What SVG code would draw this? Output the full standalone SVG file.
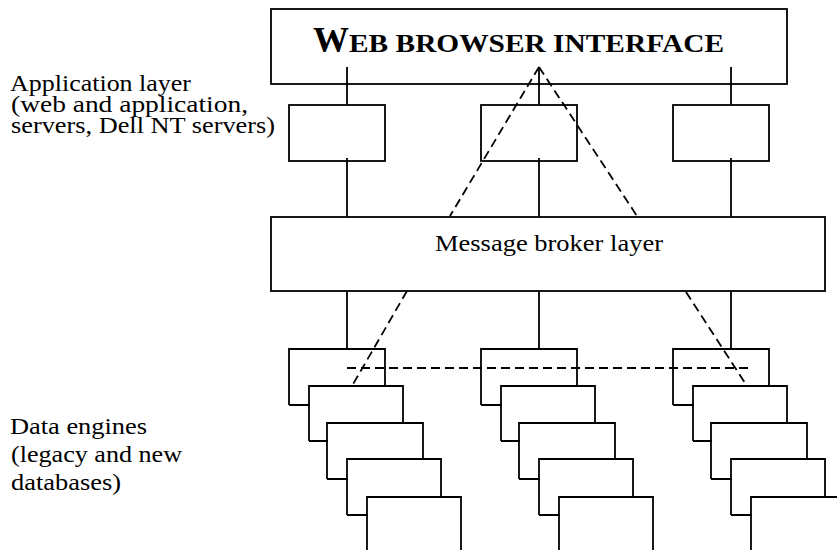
<svg xmlns="http://www.w3.org/2000/svg" xmlns:xlink="http://www.w3.org/1999/xlink" width="837" height="550" viewBox="0 0 837 550">
<style>
.box{fill:none;stroke:#000;stroke-width:1.8}
.ln{fill:none;stroke:#000;stroke-width:1.8}
.dash{fill:none;stroke:#000;stroke-width:1.8;stroke-dasharray:9 5}
.t{font-family:'Liberation Serif','Times New Roman',serif;fill:#000;font-size:23px}
.tb{font-family:'Liberation Serif','Times New Roman',serif;fill:#000;font-weight:bold}
</style>
<defs>
<path id="stack" class="ln" d="M0 56V0H96V37M0 56H21M20 92V37H114V74M20 92H39M38 130V74H134V110M38 130H59M58 166V110H152V148M58 166H79M78 201V148H172V201"/>
</defs>
<rect width="837" height="550" fill="#fff"/>
<g id="connectors">
<path class="ln" d="M347 67V105M539 67V105M731 67V105M347 158V217M539 158V217M731 158V217M347 291V349M539 291V349M731 291V349"/>
<path class="dash" d="M539 67L450 216M539 67L637 216M407 291L352 386M686 292L747 386M347 368H751"/>
</g>
<g id="web-browser">
<rect class="box" x="271" y="9" width="516" height="75"/>
<text class="tb" x="313" y="52"><tspan font-size="36">W</tspan><tspan font-size="26" textLength="375" lengthAdjust="spacingAndGlyphs">EB BROWSER INTERFACE</tspan></text>
</g>
<g id="app-1"><rect class="box" x="289" y="105" width="96" height="56"/></g>
<g id="app-2"><rect class="box" x="481" y="105" width="96" height="56"/></g>
<g id="app-3"><rect class="box" x="673" y="105" width="96" height="56"/></g>
<g id="broker">
<rect class="box" x="271" y="217" width="554" height="74"/>
<text class="t" x="435" y="251" font-size="24" textLength="228" lengthAdjust="spacingAndGlyphs">Message broker layer</text>
</g>
<g id="engines-1" transform="translate(289,349)"><use xlink:href="#stack"/></g>
<g id="engines-2" transform="translate(481,349)"><use xlink:href="#stack"/></g>
<g id="engines-3" transform="translate(673,349)"><use xlink:href="#stack"/></g>
<g id="label-app">
<text class="t" x="10" y="91" textLength="181" lengthAdjust="spacingAndGlyphs">Application layer</text>
<text class="t" x="11" y="112" textLength="237" lengthAdjust="spacingAndGlyphs">(web and application,</text>
<text class="t" x="11" y="133" textLength="264" lengthAdjust="spacingAndGlyphs">servers, Dell NT servers)</text>
</g>
<g id="label-data">
<text class="t" x="10" y="434" textLength="137" lengthAdjust="spacingAndGlyphs">Data engines</text>
<text class="t" x="11" y="462" textLength="171" lengthAdjust="spacingAndGlyphs">(legacy and new</text>
<text class="t" x="11" y="490" textLength="110" lengthAdjust="spacingAndGlyphs">databases)</text>
</g>
</svg>
